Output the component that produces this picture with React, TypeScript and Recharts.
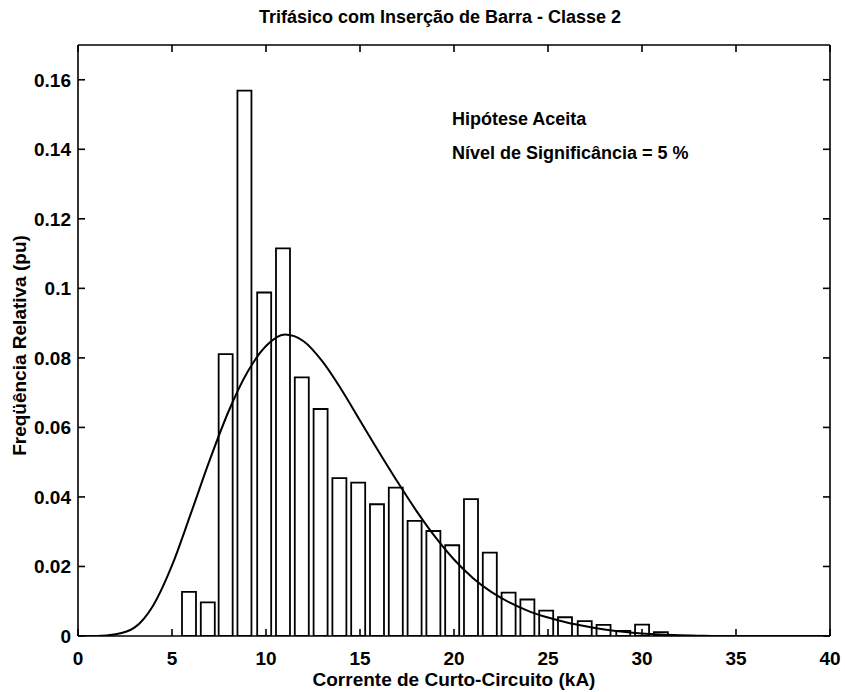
import { ComposedChart, Bar, Line, XAxis, YAxis } from 'recharts';

// histogram bins (kA) and relative frequency (pu)
const binCenters = [5.9, 6.9, 7.85, 8.85, 9.9, 10.9, 11.9, 12.9, 13.9, 14.9, 15.9, 16.9, 17.9, 18.9, 19.9, 20.9, 21.9, 22.9, 23.9, 24.9, 25.9, 26.95, 27.95, 29.0, 30.0, 31.0];
const relFreq = [0.0127, 0.0097, 0.0811, 0.1569, 0.0988, 0.1115, 0.0744, 0.0653, 0.0454, 0.0441, 0.0379, 0.0427, 0.0331, 0.0302, 0.0261, 0.0394, 0.024, 0.0125, 0.0105, 0.0073, 0.0054, 0.0043, 0.0032, 0.0015, 0.0033, 0.0011];

// fitted density curve
const curveX = [0, 1, 2, 3, 4, 5, 6, 7, 8, 9, 10, 11, 12, 13, 14, 15, 16, 17, 18, 19, 20, 21, 22, 23, 24, 25, 26, 27, 28, 29, 30, 31, 32, 33, 34, 35, 36, 37, 38, 39, 40];
const curveY = [0, 0.00002, 0.0005, 0.0024, 0.0088, 0.0203, 0.0352, 0.0505, 0.0645, 0.0758, 0.0834, 0.0867, 0.0848, 0.079, 0.071, 0.062, 0.053, 0.0443, 0.036, 0.0285, 0.022, 0.0167, 0.0126, 0.0095, 0.0071, 0.0053, 0.0039, 0.0028, 0.0019, 0.0012, 0.0007, 0.0004, 0.0002, 0.0001, 0, 0, 0, 0, 0, 0, 0];

const xTicks = [0, 5, 10, 15, 20, 25, 30, 35, 40];
const yTicks = [0, 0.02, 0.04, 0.06, 0.08, 0.1, 0.12, 0.14, 0.16];

const histData = binCenters.map((x, i) => ({ x, freq: relFreq[i] }));
const curveData = curveX.map((x, i) => ({ x, pdf: curveY[i] }));

const FONT = '"Liberation Sans", Arial, sans-serif';

const TopLabels = ({ viewBox }: any) => {
  const { x, width } = viewBox;
  const y = viewBox.y + viewBox.height;
  return (
    <g fontFamily={FONT} fill="#000">
      <text x={x + width / 2 - 14} y={y - 28} textAnchor="middle" dominantBaseline="central" fontSize={18} fontWeight="bold">
        Trifásico com Inserção de Barra - Classe 2
      </text>
      <text x={x + 374} y={y + 74} dominantBaseline="central" fontSize={18} fontWeight="bold">
        Hipótese Aceita
      </text>
      <text x={x + 374} y={y + 108} dominantBaseline="central" fontSize={18} fontWeight="bold">
        Nível de Significância = 5 %
      </text>
    </g>
  );
};

const XLabel = ({ viewBox }: any) => {
  const { x, y, width } = viewBox;
  return (
    <text x={x + width / 2} y={y + 43} textAnchor="middle" dominantBaseline="central" fontFamily={FONT} fontSize={19} fontWeight="bold" fill="#000">
      Corrente de Curto-Circuito (kA)
    </text>
  );
};

const YLabel = ({ viewBox }: any) => {
  const cx = viewBox.x + 19;
  const cy = viewBox.y + viewBox.height / 2 + 5;
  return (
    <text x={cx} y={cy} transform={`rotate(-90 ${cx} ${cy})`} textAnchor="middle" dominantBaseline="central" fontFamily={FONT} fontSize={19} fontWeight="bold" fill="#000">
      Freqüência Relativa (pu)
    </text>
  );
};

const tickStyle = { fill: '#000', fontSize: 19, fontWeight: 'bold', fontFamily: FONT };
const axisStroke = { stroke: '#000', strokeWidth: 1.6 };

export default function App() {
  return (
    <div style={{ position: 'absolute', left: 0, top: 0, background: '#fff' }}>
      <ComposedChart width={845} height={692} data={histData} margin={{ top: 44, right: 14, bottom: 0, left: 0 }}>
        <XAxis
          dataKey="x"
          type="number"
          domain={[0, 40]}
          ticks={xTicks}
          interval={0}
          allowDataOverflow
          height={56}
          tickSize={-7}
          tickMargin={23}
          tick={tickStyle}
          axisLine={axisStroke}
          tickLine={axisStroke}
          label={<XLabel />}
        />
        <XAxis
          xAxisId="top"
          orientation="top"
          dataKey="x"
          type="number"
          domain={[0, 40]}
          ticks={xTicks}
          interval={0}
          allowDataOverflow
          height={1}
          tickSize={-7}
          tickFormatter={() => ''}
          axisLine={axisStroke}
          tickLine={axisStroke}
          label={<TopLabels />}
        />
        <YAxis
          type="number"
          domain={[0, 0.17]}
          ticks={yTicks}
          interval={0}
          allowDataOverflow
          width={78}
          tickSize={-7}
          tickMargin={14}
          tick={tickStyle}
          tickFormatter={(v: number) => String(v)}
          axisLine={axisStroke}
          tickLine={axisStroke}
          label={<YLabel />}
        />
        <YAxis
          yAxisId="right"
          orientation="right"
          type="number"
          domain={[0, 0.17]}
          ticks={yTicks}
          interval={0}
          allowDataOverflow
          width={1}
          tickSize={-7}
          tickFormatter={() => ''}
          axisLine={axisStroke}
          tickLine={axisStroke}
        />
        <Bar dataKey="freq" barSize={14} fill="#fff" stroke="#000" strokeWidth={1.8} isAnimationActive={false} />
        <Line xAxisId="top" data={curveData} dataKey="pdf" type="monotone" stroke="#000" strokeWidth={2} dot={false} activeDot={false} isAnimationActive={false} />
      </ComposedChart>
    </div>
  );
}
